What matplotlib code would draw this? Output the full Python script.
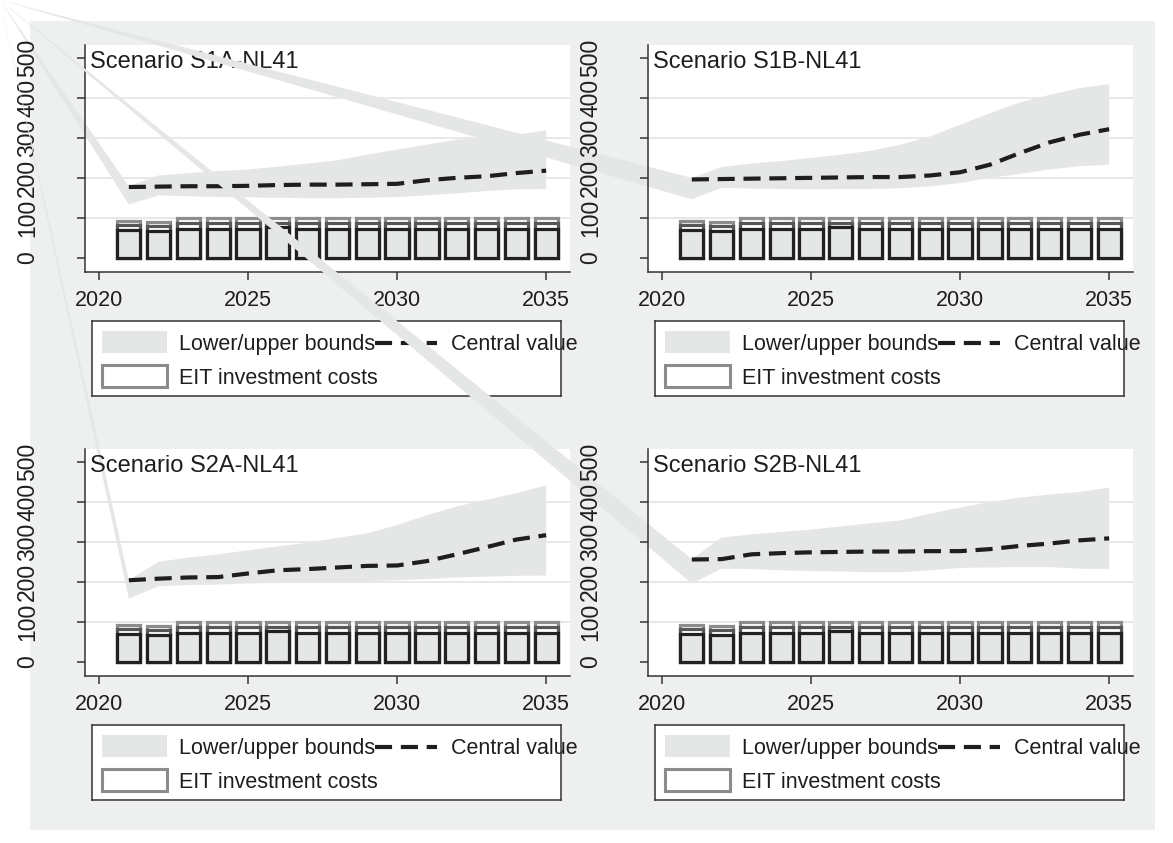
import numpy as np
import matplotlib
matplotlib.use('Agg')
import matplotlib.pyplot as plt
from matplotlib.patches import Polygon, Rectangle

plt.rcParams['font.family'] = ['Liberation Sans', 'DejaVu Sans']

years = np.arange(2021, 2036)
titles = ['Scenario S1A-NL41', 'Scenario S1B-NL41', 'Scenario S2A-NL41', 'Scenario S2B-NL41']

# bands and central values per scenario
s1a_central = [177, 178, 179, 179, 180, 182, 183, 183, 184, 185, 194, 200, 204, 212, 218]
s1a_upper = [179, 206, 212, 217, 221, 228, 236, 244, 258, 271, 283, 296, 300, 308, 319]
s1a_lower = [133, 156, 154, 152, 151, 150, 149, 149, 150, 152, 156, 161, 167, 171, 172]

s1b_central = [196, 197, 198, 199, 200, 201, 202, 202, 206, 214, 233, 262, 289, 308, 322]
s1b_upper = [200, 227, 236, 242, 250, 258, 268, 283, 304, 333, 362, 389, 408, 425, 435]
s1b_lower = [146, 175, 173, 172, 171, 172, 172, 174, 179, 187, 200, 210, 221, 229, 233]

s2a_central = [204, 208, 211, 212, 221, 229, 232, 236, 240, 241, 252, 269, 287, 306, 317]
s2a_upper = [205, 250, 261, 269, 279, 289, 298, 310, 322, 342, 367, 389, 406, 422, 442]
s2a_lower = [158, 189, 192, 193, 196, 197, 199, 201, 202, 204, 207, 211, 213, 215, 216]

s2b_central = [256, 257, 269, 272, 274, 275, 276, 276, 277, 277, 282, 290, 296, 304, 309]
s2b_upper = [257, 311, 319, 325, 331, 339, 347, 354, 371, 386, 400, 411, 419, 425, 436]
s2b_lower = [196, 233, 232, 229, 227, 226, 224, 224, 229, 235, 236, 237, 237, 233, 232]

# EIT investment costs (three overlaid bars)
eit_upper = [93, 89, 99, 99, 99, 100, 99, 99, 99, 99, 99, 99, 99, 99, 99]
eit_central = [82, 79, 86, 86, 86, 88, 86, 86, 86, 86, 86, 86, 86, 86, 86]
eit_lower = [69, 66, 72, 72, 72, 76, 72, 72, 72, 72, 72, 72, 72, 72, 72]

centrals = [s1a_central, s1b_central, s2a_central, s2b_central]
uppers = [s1a_upper, s1b_upper, s2a_upper, s2b_upper]
lowers = [s1a_lower, s1b_lower, s2a_lower, s2b_lower]

W, H = 1173, 843
band_c = '#e5e6e6'
ink = '#1e1e1e'
fs = 15.5

fig = plt.figure(figsize=(W / 100, H / 100), dpi=100)
fig.patch.set_facecolor('white')


def rect(x0, y0, x1, y1):
    return [x0 / W, 1 - y1 / H, (x1 - x0) / W, (y1 - y0) / H]


fig.add_artist(Rectangle((30 / W, 1 - 830 / H), 1125 / W, 809 / H, transform=fig.transFigure,
                         facecolor='#eef0ef', edgecolor='none', zorder=-10))

offsets = [(0, 0), (563, 0), (0, 404), (563, 404)]

for i, (dx, dy) in enumerate(offsets):
    ax = fig.add_axes(rect(85 + dx, 45 + dy, 570 + dx, 272 + dy))
    ax.set_facecolor('white')
    ax.set_xlim(2019.53, 2035.8)
    ax.set_ylim(-36, 533)

    for g in [100, 200, 300, 400]:
        ax.axhline(g, color='#e6e6e6', lw=1.3, zorder=0.5)

    # band polygon, joined to the picture corner like the original
    lo = np.array(lowers[i], dtype=float)
    hi = np.array(uppers[i], dtype=float)
    pts = np.column_stack([np.r_[years, years[::-1]], np.r_[lo, hi[::-1]]])
    disp = ax.transData.transform(pts)
    corner = np.array([[0.0, fig.bbox.height]])
    disp = np.vstack([corner, disp, corner])
    fpts = fig.transFigure.inverted().transform(disp)
    ax.add_artist(Polygon(fpts, closed=True, transform=fig.transFigure, facecolor=band_c,
                          edgecolor='none', clip_on=False, zorder=1))

    ax.bar(years, eit_upper, width=0.78, color='white', edgecolor='#8c8c8c', lw=2.3, zorder=2)
    ax.bar(years, eit_central, width=0.78, color='white', edgecolor='#575757', lw=2.3, zorder=2.1)
    ax.bar(years, eit_lower, width=0.78, color=band_c, edgecolor='#222222', lw=2.3, zorder=2.2)

    ax.plot(years, centrals[i], color=ink, lw=3, ls=(0, (4.1, 2.1)), dash_capstyle='butt', zorder=3)

    ax.text(5 / 485, 1 - 17 / 227, titles[i], transform=ax.transAxes, ha='left', va='center',
            fontsize=17, color=ink, zorder=5)

    for s in ['top', 'right']:
        ax.spines[s].set_visible(False)
    for s in ['left', 'bottom']:
        ax.spines[s].set_color('#333333')
        ax.spines[s].set_linewidth(1.1)

    ax.set_xticks([2020, 2025, 2030, 2035])
    ax.set_yticks([0, 100, 200, 300, 400, 500])
    ax.tick_params(axis='x', length=6, width=1.1, color='#333333', pad=7, labelsize=fs, labelcolor=ink)
    ax.tick_params(axis='y', length=6, width=1.1, color='#333333', pad=27, labelsize=16.5,
                   labelcolor=ink, labelrotation=90)
    for lab in ax.get_yticklabels():
        lab.set_va('center')

    # legend box
    lg = fig.add_axes(rect(92 + dx, 321 + dy, 561 + dx, 396 + dy))
    lg.set_facecolor('white')
    lg.set_xlim(0, 469)
    lg.set_ylim(75, 0)
    lg.set_xticks([])
    lg.set_yticks([])
    for s in lg.spines.values():
        s.set_color('#333333')
        s.set_linewidth(1.1)
    lg.add_patch(Rectangle((10, 10), 65, 22, facecolor=band_c, edgecolor='none'))
    lg.text(87, 23.5, 'Lower/upper bounds', va='center', ha='left', fontsize=fs, color=ink)
    lg.plot([283, 345], [22, 22], color=ink, lw=3, ls=(0, (4.1, 2.1)), dash_capstyle='butt',
            clip_on=False, zorder=3)
    lg.text(359, 23.5, 'Central value', va='center', ha='left', fontsize=fs, color=ink)
    lg.add_patch(Rectangle((10, 44), 65, 22, facecolor='white', edgecolor='#8c8c8c', lw=2.2))
    lg.text(87, 57, 'EIT investment costs', va='center', ha='left', fontsize=fs, color=ink)

fig.savefig('out.png', dpi=100)
